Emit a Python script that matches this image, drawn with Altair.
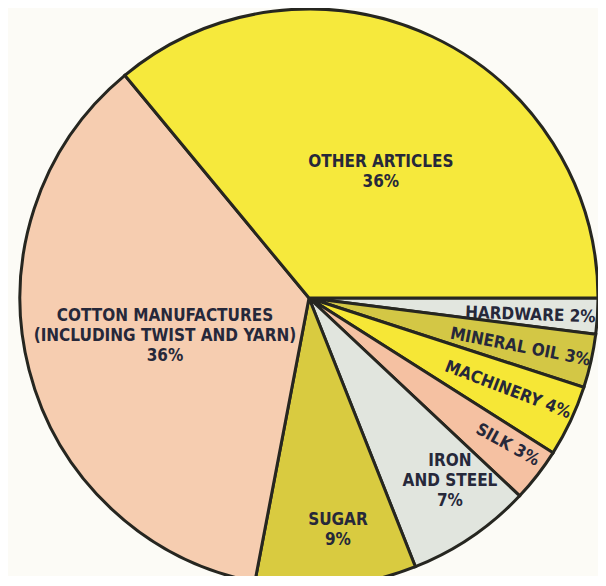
import math
import altair as alt
import pandas as pd

# ---- data (clockwise from 3 o'clock) ----
categories = ["HARDWARE", "MINERAL OIL", "MACHINERY", "SILK",
              "IRON AND STEEL", "SUGAR", "COTTON MANUFACTURES", "OTHER ARTICLES"]
values = [2, 3, 4, 3, 7, 9, 36, 36]
labels = ["HARDWARE 2%", "MINERAL OIL 3%", "MACHINERY 4%", "SILK 3%",
          "IRON\nAND STEEL\n7%", "SUGAR\n9%",
          "COTTON MANUFACTURES\n(INCLUDING TWIST AND YARN)\n36%",
          "OTHER ARTICLES\n36%"]
colors = ["#e2e6df", "#d3c745", "#f6e736", "#f5c1a2",
          "#e1e5de", "#d9cb40", "#f6cdb0", "#f6e93c"]

# ---- label layout (style, not data) ----
label_radius = [222, 217, 219, 247, 231, 234, 149, 145]
label_angle_shift = [0.8, 0.5, -0.4, -1.3, -3.4, -1.7, -0.4, 4.5]
label_rotation = [2, 11, 21, 29, 0, 0, 0, 0]
LINE_H = 20

CX, CY, R = 301, 290, 289
start_deg = 90.0

df = pd.DataFrame({
    "cat": categories,
    "value": values,
    "label": labels,
    "idx": list(range(len(categories))),
    "r": label_radius,
    "rot": label_rotation,
})
total = df["value"].sum()
cum = df["value"].cumsum() - df["value"] / 2
mid = start_deg + cum / total * 360.0 + pd.Series(label_angle_shift)
rad = mid * math.pi / 180
nlines = df["label"].str.count("\n")
df["lx"] = CX + df["r"] * rad.map(math.sin)
df["ly"] = CY - df["r"] * rad.map(math.cos) - nlines * LINE_H / 2

theta = alt.Theta("value:Q", stack=True,
                  scale=alt.Scale(range=[math.radians(start_deg),
                                         math.radians(start_deg) + 2 * math.pi]))

pie = alt.Chart(df).mark_arc(outerRadius=R, stroke="#262620", strokeWidth=3).encode(
    theta=theta,
    order=alt.Order("idx:Q"),
    x=alt.value(CX),
    y=alt.value(CY),
    color=alt.Color("cat:N", scale=alt.Scale(domain=categories, range=colors),
                    legend=None),
)

text = alt.Chart(df).mark_text(
    font="DejaVu Sans Condensed", fontWeight="bold", fontSize=17,
    color="#26283a", lineBreak="\n", lineHeight=LINE_H,
    align="center", baseline="middle",
).encode(
    x=alt.X("lx:Q", scale=None),
    y=alt.Y("ly:Q", scale=None),
    text="label:N",
    angle=alt.Angle("rot:Q", scale=None),
)

chart = (pie + text).properties(
    width=590, height=568,
    autosize=alt.AutoSizeParams(type="none"),
    padding=0,
    background="#fcfbf6",
).configure_view(strokeWidth=0)

chart.save("out.html", embed_options={"renderer": "svg", "actions": False})
